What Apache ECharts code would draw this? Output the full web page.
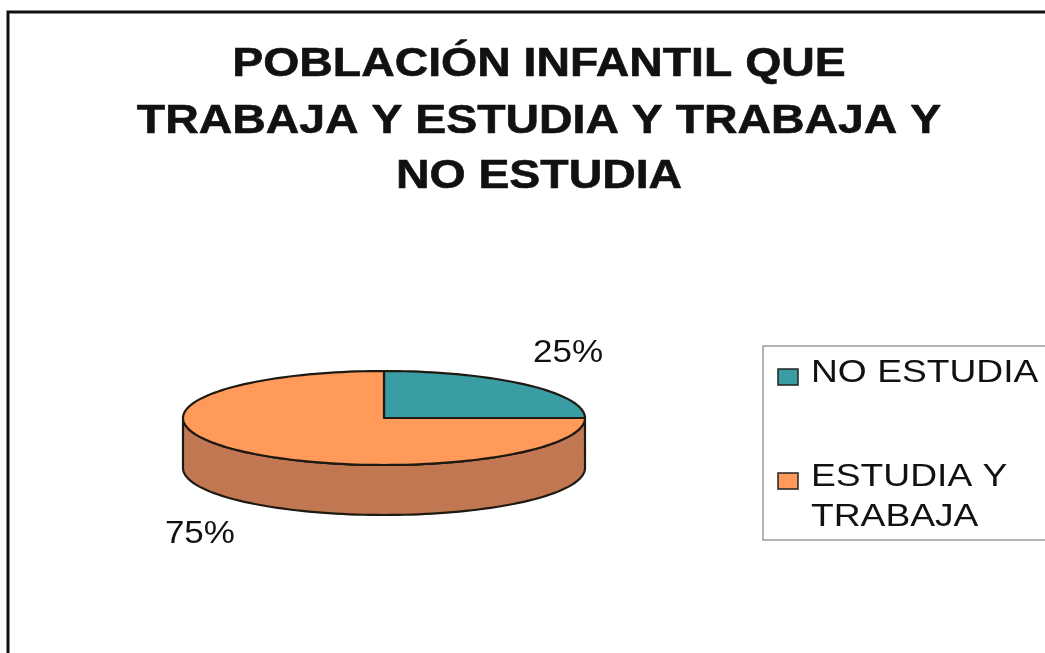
<!DOCTYPE html>
<html>
<head>
<meta charset="utf-8">
<script src="https://cdn.jsdelivr.net/npm/echarts@6/dist/echarts.min.js"></script>
<style>
html,body{margin:0;padding:0;background:#fff;}
#chart{width:1045px;height:653px;}
</style>
</head>
<body>
<div id="chart"></div>
<script>
// ---- data ----
const titleLines = ['POBLACIÓN INFANTIL QUE', 'TRABAJA Y ESTUDIA Y TRABAJA Y', 'NO ESTUDIA'];
const categories = ['NO ESTUDIA', 'ESTUDIA Y\nTRABAJA'];
const values = [25, 75];

// ---- styles ----
const topColors = ['#3A9DA4', '#FF9A5B'];
const sideColors = ['#2C767B', '#C17852'];
const FONT = '"Liberation Sans", Arial, sans-serif';

const total = values.reduce((a, b) => a + b, 0);
const cx = 384, cy = 418, rx = 201, ry = 47, depth = 50;

function pt(deg, dy) {
  const r = deg * Math.PI / 180;
  return [cx + rx * Math.cos(r), cy - ry * Math.sin(r) + (dy || 0)];
}
function arcPts(a, b, dy) {
  const n = Math.max(2, Math.ceil(Math.abs(b - a) / 2));
  const pts = [];
  for (let i = 0; i <= n; i++) pts.push(pt(a + (b - a) * i / n, dy));
  return pts;
}

const chart = echarts.init(document.getElementById('chart'), null, {renderer: 'canvas'});

const graphics = [];
// outer frame
graphics.push({
  type: 'rect', shape: {x: 8, y: 12, width: 1060, height: 660},
  style: {fill: null, stroke: '#111', lineWidth: 3}, silent: true
});
// title lines
const titleCenters = [65, 122, 177];
titleLines.forEach((t, i) => {
  graphics.push({
    type: 'text', x: 539, y: titleCenters[i], scaleX: 1.16, scaleY: 1,
    style: {text: t, font: 'bold 40px ' + FONT, fill: '#111', align: 'center', verticalAlign: 'middle',
            stroke: '#111', lineWidth: 0.6}
  });
});
// legend box
graphics.push({
  type: 'rect', shape: {x: 763, y: 346, width: 300, height: 194},
  style: {fill: null, stroke: '#9a9a9a', lineWidth: 1.5}, silent: true
});
categories.forEach((name, i) => {
  const y0 = 353 + i * 104;
  graphics.push({
    type: 'rect', shape: {x: 778, y: y0 + 16, width: 20, height: 16},
    style: {fill: topColors[i], stroke: '#222', lineWidth: 1.5}
  });
  graphics.push({
    type: 'text', x: 811, y: y0, scaleX: 1.2, scaleY: 1,
    style: {text: name, font: '31px ' + FONT, fill: '#111', align: 'left', verticalAlign: 'top', lineHeight: 40}
  });
});

function renderItem(params, api) {
  const i = params.dataIndex;
  const v = api.value(0);
  let cum = 0;
  for (let k = 0; k < i; k++) cum += values[k];
  const start = 90 - 360 * cum / total;
  const end = 90 - 360 * (cum + v) / total;
  const children = [];
  // side wall (front half only)
  for (const k of [-1, 0, 1]) {
    const lo = Math.max(end, -180 + 360 * k);
    const hi = Math.min(start, 360 * k);
    if (hi - lo > 0.01) {
      const pts = arcPts(lo, hi, 0).concat(arcPts(hi, lo, depth));
      children.push({
        type: 'polygon', z2: 1, shape: {points: pts},
        style: {fill: sideColors[i], stroke: '#1e1a12', lineWidth: 2.2, lineJoin: 'round'}
      });
    }
  }
  // top face
  const topPts = [[cx, cy]].concat(arcPts(start, end, 0));
  children.push({
    type: 'polygon', z2: 10, shape: {points: topPts},
    style: {fill: topColors[i], stroke: '#1e1a12', lineWidth: 2.2, lineJoin: 'round'}
  });
  // label
  const mid = (start + end) / 2 * Math.PI / 180;
  const s = Math.sin(mid), c = Math.cos(mid);
  const lx = cx + 1.295 * rx * c;
  const ly = cy - 1.97 * ry * s + (s < 0 ? depth : 0);
  children.push({
    type: 'text', z2: 20, x: lx, y: ly + 1, scaleX: 1.13, scaleY: 1,
    style: {text: Math.round(v / total * 100) + '%', font: '31px ' + FONT, fill: '#111', align: 'center', verticalAlign: 'middle'}
  });
  return {type: 'group', children: children};
}

chart.setOption({
  backgroundColor: '#ffffff',
  animation: false,
  graphic: {elements: graphics},
  series: [{
    type: 'custom',
    coordinateSystem: 'none',
    renderItem: renderItem,
    data: values.map(v => [v])
  }]
});
</script>
</body>
</html>
